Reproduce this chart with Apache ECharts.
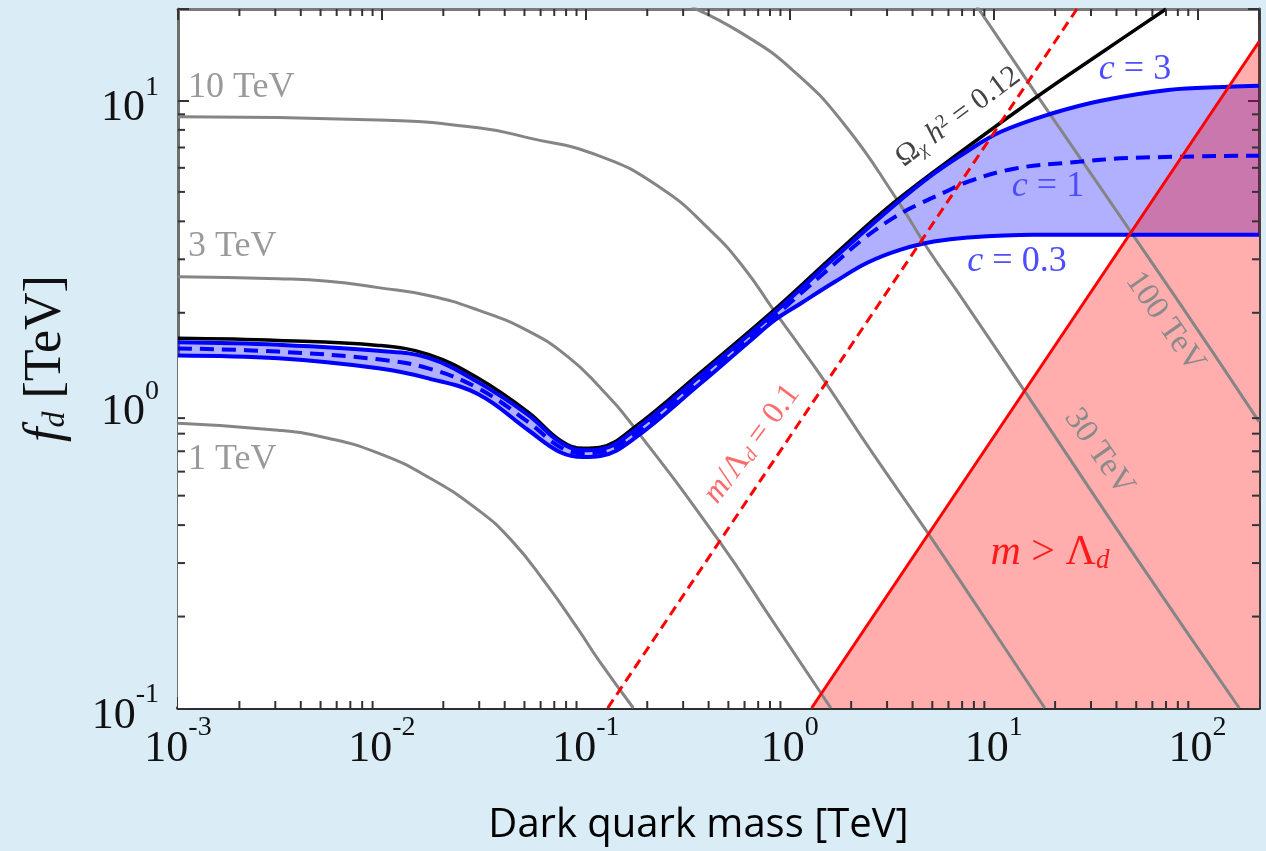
<!DOCTYPE html>
<html>
<head>
<meta charset="utf-8">
<script src="https://cdn.jsdelivr.net/npm/echarts@6.0.0/dist/echarts.min.js"></script>
<style>
html,body{margin:0;padding:0;background:#daedf7;}
#chart{width:1266px;height:851px;}
</style>
</head>
<body>
<div id="chart"></div>
<script>
// ---- axes ----
const xRange = [0.001, 200];
const yRange = [0.1, 20];
const xMajorTicks = [0.001, 0.01, 0.1, 1, 10, 100];
const xTickExponents = ['-3', '-2', '-1', '0', '1', '2'];
const yMajorTicks = [0.1, 1, 10];
const yTickExponents = ['-1', '0', '1'];

// ---- gray contour curves [m (TeV), f_d (TeV)] ----
const gray1TeV = [[0.001,0.865],[0.0031,0.821],[0.00544,0.773],[0.0096,0.69],[0.0169,0.575],[0.0297,0.448],[0.0431,0.357],[0.0634,0.258],[0.092,0.181],[0.1153,0.144],[0.171,0.1]];
const gray3TeV = [[0.001,2.63],[0.0031,2.59],[0.00544,2.54],[0.0096,2.42],[0.0169,2.28],[0.0297,2.04],[0.0523,1.74],[0.0812,1.437],[0.1153,1.15],[0.171,0.846],[0.458,0.349],[0.805,0.198],[1.59,0.1]];
const gray10TeV = [[0.001,8.83],[0.0096,8.63],[0.0297,8.13],[0.0523,7.53],[0.1153,6.58],[0.232,5.16],[0.409,3.73],[0.594,2.82],[0.834,2.04],[1.13,1.54],[1.47,1.2],[2.49,0.706],[4.75,0.377],[8.65,0.207],[17.8,0.1]];
const gray30TeV = [[0.33,20.3],[0.594,16.5],[1.045,12.5],[1.84,8.38],[3.38,4.68],[4.75,3.25],[7.13,2.19],[14.1,1.11],[47.1,0.331],[160,0.1]];
const gray100TeV = [[8.2,20.6],[17.0,9.98],[80.2,2.19],[200,0.876]];

// ---- relic abundance curves ----
const omegaBlack = [[0.001,1.648],[0.0031,1.622],[0.0096,1.562],[0.0169,1.459],[0.0297,1.217],[0.0523,0.94],[0.075,0.76],[0.0973,0.716],[0.118,0.722],[0.171,0.834],[0.366,1.273],[0.853,2.065],[1.642,3.086],[3.236,4.609],[7.46,7.04],[17.1,10.52],[33.6,14.33],[70,20]];
const cThree = [[0.001,1.6],[0.0031,1.57],[0.0096,1.5],[0.0169,1.42],[0.0297,1.18],[0.0523,0.92],[0.075,0.749],[0.0973,0.706],[0.118,0.711],[0.171,0.815],[0.366,1.245],[0.853,2.02],[1.642,3.017],[3.236,4.505],[5.086,5.74],[7.46,6.82],[10.84,7.885],[19.1,9.04],[33.6,9.98],[71.6,10.83],[141,11.09],[200,11.17]];
const cOne = [[0.001,1.527],[0.0031,1.49],[0.0096,1.405],[0.0169,1.313],[0.0297,1.128],[0.0523,0.873],[0.075,0.722],[0.0973,0.69],[0.118,0.695],[0.171,0.79],[0.366,1.207],[0.853,1.96],[1.131,2.315],[1.642,2.883],[2.305,3.51],[3.236,4.114],[4.244,4.54],[5.69,4.97],[7.46,5.4],[12.6,5.96],[23.1,6.237],[48.8,6.471],[200,6.577]];
const cPointThree = [[0.001,1.448],[0.0031,1.416],[0.0096,1.313],[0.0169,1.217],[0.0297,1.079],[0.0523,0.821],[0.075,0.695],[0.0973,0.67],[0.118,0.675],[0.171,0.767],[0.366,1.172],[0.643,1.622],[0.853,1.901],[1.131,2.146],[1.642,2.515],[2.412,2.927],[3.502,3.229],[5.086,3.431],[7.46,3.54],[15.7,3.614],[200,3.614]];

// ---- m / Lambda_d lines ----
const mEqLambda = [[1.28,0.1],[200,15.6]];
const mTenthLambda = [[0.128,0.1],[25.6,20]];

// minor ticks derived from the decades
const xMinor = [], yMinor = [];
xMajorTicks.forEach(d => { for (let k = 2; k <= 9; k++) { const v = k * d; if (v < xRange[1] * 0.999) xMinor.push(v); } });
yMajorTicks.forEach(d => { for (let k = 2; k <= 9; k++) { const v = k * d; if (v < yRange[1] * 0.999) yMinor.push(v); } });

const serif = '"Liberation Serif", "Times New Roman", serif';

function expLabel(ticks, exps) {
  return v => {
    for (let i = 0; i < ticks.length; i++) {
      if (Math.abs(Math.log10(v) - Math.log10(ticks[i])) < 1e-6) return '{b|10}{s|' + exps[i] + '}';
    }
    return '';
  };
}
const tickRich = {
  b: { fontFamily: serif, fontSize: 44, lineHeight: 70, color: '#111' },
  s: { fontFamily: serif, fontSize: 28, lineHeight: 28, color: '#111', verticalAlign: 'top' }
};

function curve(data, color, width, z, dash, smooth) {
  return { type: 'line', data, showSymbol: false, smooth: smooth == null ? 0.4 : smooth, silent: true, z,
    clip: true, lineStyle: { color, width, type: dash || 'solid' } };
}
function areaFill(data, color, z, smooth) {
  return { type: 'line', data, showSymbol: false, smooth: smooth, silent: true, z,
    clip: true, lineStyle: { width: 0, opacity: 0 }, areaStyle: { color, opacity: 1, origin: 'start' } };
}

const chart = echarts.init(document.getElementById('chart'), null, { renderer: 'canvas' });
const option = {
  animation: false,
  backgroundColor: '#daedf7',
  grid: { left: 178, top: 9, right: 7, bottom: 143, show: true, backgroundColor: '#ffffff', borderWidth: 0 },
  xAxis: [{
    type: 'log', min: xRange[0], max: xRange[1], position: 'bottom',
    axisLine: { show: true, lineStyle: { color: '#2e2e2e', width: 4 } },
    axisTick: { show: true, inside: true, length: 11, lineStyle: { color: '#333', width: 2 } },
    splitLine: { show: false },
    axisLabel: { formatter: expLabel(xMajorTicks, xTickExponents), rich: tickRich, margin: 6, showMinLabel: true, showMaxLabel: true, hideOverlap: false },
    name: 'Dark quark mass [TeV]', nameLocation: 'middle', nameGap: 98,
    nameTextStyle: { fontFamily: '"Open Sans", "Noto Sans", sans-serif', fontSize: 40, color: '#000', padding: [0, 40, 0, 0] }
  }, {
    type: 'log', min: xRange[0], max: xRange[1], position: 'top',
    axisLine: { show: true, lineStyle: { color: '#7a7a7a', width: 3 } },
    axisTick: { show: true, inside: true, length: 11, lineStyle: { color: '#333', width: 2 } },
    axisLabel: { show: false }, splitLine: { show: false }
  }],
  yAxis: [{
    type: 'log', min: yRange[0], max: yRange[1], position: 'left',
    axisLine: { show: true, lineStyle: { color: '#6e6e6e', width: 3 } },
    axisTick: { show: true, inside: true, length: 11, lineStyle: { color: '#333', width: 2 } },
    splitLine: { show: false },
    axisLabel: { formatter: expLabel(yMajorTicks, yTickExponents), rich: tickRich, margin: 19, padding: [16, 0, 0, 0] },
    name: '{i|f}{s|d}{a| [TeV]}', nameLocation: 'middle', nameGap: 106, nameRotate: 90,
    nameTextStyle: { rich: {
      i: { fontFamily: serif, fontStyle: 'italic', fontSize: 52, color: '#111' },
      s: { fontFamily: serif, fontStyle: 'italic', fontSize: 32, color: '#111', verticalAlign: 'bottom' },
      a: { fontFamily: serif, fontSize: 52, color: '#111' } } }
  }, {
    type: 'log', min: yRange[0], max: yRange[1], position: 'right',
    axisLine: { show: true, lineStyle: { color: '#4b3d3d', width: 3 } },
    axisTick: { show: true, inside: true, length: 11, lineStyle: { color: '#333', width: 2 } },
    axisLabel: { show: false }, splitLine: { show: false }
  }],
  series: [
    areaFill(cThree, 'rgba(0,0,255,0.31)', 1, 0.4),
    areaFill(cPointThree, '#ffffff', 2, 0.4),
    areaFill(mEqLambda, 'rgba(255,0,0,0.32)', 3, false),
    curve(gray1TeV, '#858585', 3, 4, null, 0.5),
    curve(gray3TeV, '#858585', 3, 4, null, 0.5),
    curve(gray10TeV, '#858585', 3, 4, null, 0.5),
    curve(gray30TeV, '#858585', 3, 4, null, 0.5),
    curve(gray100TeV, '#858585', 3, 4, null, 0.5),
    curve(omegaBlack, '#000000', 3.5, 5),
    curve(cThree, '#0000ff', 4, 6),
    curve(cOne, '#0000ff', 4, 6, [14, 8]),
    curve(cPointThree, '#0000ff', 4, 6),
    curve(mTenthLambda, '#ff0000', 3, 7, [10, 6], false),
    curve(mEqLambda, '#ff0000', 3, 7, null, false),
    {
      type: 'custom', silent: true, z: 9, clip: false,
      data: xMinor.map(v => [v, yRange[0]]),
      renderItem: (params, api) => {
        const cs = params.coordSys;
        const px = api.coord([api.value(0), yRange[0]])[0];
        const L = 7, st = { stroke: '#333', lineWidth: 2 };
        return { type: 'group', children: [
          { type: 'line', shape: { x1: px, y1: cs.y + cs.height, x2: px, y2: cs.y + cs.height - L }, style: st },
          { type: 'line', shape: { x1: px, y1: cs.y, x2: px, y2: cs.y + L }, style: st }
        ] };
      }
    },
    {
      type: 'custom', silent: true, z: 9, clip: false,
      data: yMinor.map(v => [xRange[0], v]),
      renderItem: (params, api) => {
        const cs = params.coordSys;
        const py = api.coord([xRange[0], api.value(1)])[1];
        const L = 7, st = { stroke: '#333', lineWidth: 2 };
        return { type: 'group', children: [
          { type: 'line', shape: { x1: cs.x, y1: py, x2: cs.x + L, y2: py }, style: st },
          { type: 'line', shape: { x1: cs.x + cs.width, y1: py, x2: cs.x + cs.width - L, y2: py }, style: st }
        ] };
      }
    }
  ],
  graphic: [
    { type: 'text', x: 188, y: 88, z: 100, style: { text: '10 TeV', font: '36px ' + serif, fill: '#9a9a9a', align: 'left', verticalAlign: 'middle' } },
    { type: 'text', x: 188, y: 247, z: 100, style: { text: '3 TeV', font: '36px ' + serif, fill: '#9a9a9a', align: 'left', verticalAlign: 'middle' } },
    { type: 'text', x: 188, y: 460, z: 100, style: { text: '1 TeV', font: '36px ' + serif, fill: '#9a9a9a', align: 'left', verticalAlign: 'middle' } },
    { type: 'text', x: 1165, y: 322, rotation: -0.96, z: 100, style: { text: '100 TeV', font: '33px ' + serif, fill: '#8a8a8a', align: 'center', verticalAlign: 'middle' } },
    { type: 'text', x: 1099, y: 452, rotation: -0.96, z: 100, style: { text: '30 TeV', font: '33px ' + serif, fill: '#8a8a8a', align: 'center', verticalAlign: 'middle' } },
    { type: 'text', x: 958, y: 117, rotation: 0.64, z: 100, style: { text: '{a|Ω}{s|χ}{i| h}{p|2}{a| = 0.12}', align: 'center', verticalAlign: 'middle',
        rich: { a: { font: '30px ' + serif, fill: '#444' }, i: { font: 'italic 30px ' + serif, fill: '#444' },
                s: { font: 'italic 19px ' + serif, fill: '#444', verticalAlign: 'bottom' }, p: { font: '19px ' + serif, fill: '#444', verticalAlign: 'top' } } } },
    { type: 'text', x: 752, y: 444, rotation: 0.93, z: 100, style: { text: '{i|m}{a|/Λ}{s|d}{a| = 0.1}', align: 'center', verticalAlign: 'middle',
        rich: { a: { font: '32px ' + serif, fill: '#ff6a6a' }, i: { font: 'italic 32px ' + serif, fill: '#ff6a6a' },
                s: { font: 'italic 20px ' + serif, fill: '#ff6a6a', verticalAlign: 'bottom' } } } },
    { type: 'text', x: 1135, y: 70, z: 100, style: { text: '{i|c}{a| = 3}', align: 'center', verticalAlign: 'middle',
        rich: { a: { font: '36px ' + serif, fill: '#4d4dff' }, i: { font: 'italic 36px ' + serif, fill: '#4d4dff' } } } },
    { type: 'text', x: 1048, y: 187, z: 100, style: { text: '{i|c}{a| = 1}', align: 'center', verticalAlign: 'middle',
        rich: { a: { font: '36px ' + serif, fill: '#4d4dff' }, i: { font: 'italic 36px ' + serif, fill: '#4d4dff' } } } },
    { type: 'text', x: 1017, y: 262, z: 100, style: { text: '{i|c}{a| = 0.3}', align: 'center', verticalAlign: 'middle',
        rich: { a: { font: '36px ' + serif, fill: '#4d4dff' }, i: { font: 'italic 36px ' + serif, fill: '#4d4dff' } } } },
    { type: 'text', x: 1050, y: 553, z: 100, style: { text: '{i|m}{a| > Λ}{s|d}', align: 'center', verticalAlign: 'middle',
        rich: { a: { font: '42px ' + serif, fill: '#ff1a1a' }, i: { font: 'italic 42px ' + serif, fill: '#ff1a1a' },
                s: { font: 'italic 27px ' + serif, fill: '#ff1a1a', verticalAlign: 'bottom' } } } }
  ]
};
chart.setOption(option);
</script>
</body>
</html>
